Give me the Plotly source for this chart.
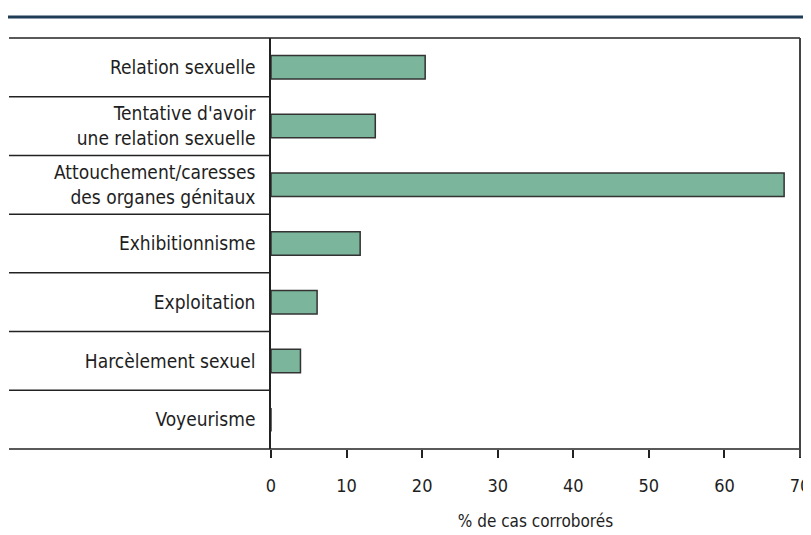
import plotly.graph_objects as go

categories = [
    "Relation sexuelle",
    "Tentative d'avoir<br>une relation sexuelle",
    "Attouchement/caresses<br>des organes génitaux",
    "Exhibitionnisme",
    "Exploitation",
    "Harcèlement sexuel",
    "Voyeurisme",
]
values = [20.4, 13.8, 67.9, 11.8, 6.1, 3.9, 0]
x_ticks = [0, 10, 20, 30, 40, 50, 60, 70]
x_title = "% de cas corroborés"

FONT = "DejaVu Sans Condensed, DejaVu Sans, sans-serif"
TXT = "#1e1e1e"

fig = go.Figure(
    go.Bar(
        x=values,
        y=categories,
        orientation="h",
        width=0.4,
        marker=dict(color="#7ab59c", line=dict(color="#333333", width=1.5)),
        hoverinfo="x+y",
    )
)

# page has an 8px body margin: work in figure coordinates = page - 8
OFF = 8
W, H = 811 - OFF, 535 - OFF
L = 271 - OFF
T = 38 - OFF
plot_right = 800 - OFF
plot_bottom = 449 - OFF
R = W - plot_right
B = H - plot_bottom
pw = W - L - R
ph = H - T - B
x_left = (9 - OFF - L) / pw

shapes = []
for k in range(len(categories) - 1):
    shapes.append(dict(type="line", xref="paper", yref="y",
                       x0=x_left, x1=0, y0=k + 0.5, y1=k + 0.5,
                       line=dict(color="#222222", width=1.5)))
for yp in (0, 1):
    shapes.append(dict(type="line", xref="paper", yref="paper",
                       x0=x_left, x1=1, y0=yp, y1=yp,
                       line=dict(color="#222222", width=1.5)))
shapes.append(dict(type="line", xref="paper", yref="paper",
                   x0=1, x1=1, y0=-8 / ph, y1=1,
                   line=dict(color="#444444", width=2)))
y_blue = (plot_bottom - (17 - OFF)) / ph
shapes.append(dict(type="line", xref="paper", yref="paper",
                   x0=(0 - L) / pw, x1=(W - L) / pw, y0=y_blue, y1=y_blue,
                   line=dict(color="#1f3d54", width=3)))

fig.update_layout(
    width=W, height=H,
    margin=dict(l=L, r=R, t=T, b=B, autoexpand=False),
    paper_bgcolor="white", plot_bgcolor="white",
    font=dict(family=FONT, size=19, color=TXT),
    showlegend=False,
    shapes=shapes,
    xaxis=dict(
        range=[0, 70], tickvals=x_ticks, ticktext=[str(v) for v in x_ticks],
        ticks="outside", ticklen=8, tickwidth=1.5, tickcolor="#222222",
        showgrid=False, zeroline=False, showline=False,
        ticklabelstandoff=12,
        tickfont=dict(size=18),
        title=dict(text=x_title, standoff=20, font=dict(size=17)),
        fixedrange=True,
    ),
    yaxis=dict(
        range=[6.5, -0.5], type="category",
        showgrid=False, zeroline=False,
        showline=True, linecolor="#222222", linewidth=1.5,
        ticks="", ticklabelstandoff=10,
        fixedrange=True,
    ),
)

fig.write_html("out.html")
